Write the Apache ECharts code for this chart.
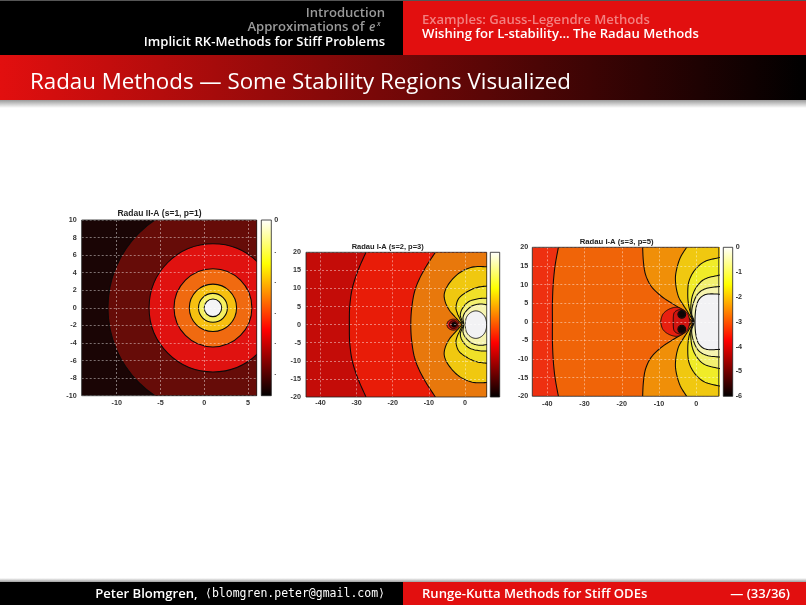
<!DOCTYPE html>
<html><head><meta charset="utf-8">
<style>html,body{margin:0;padding:0;background:#fff}#c{width:806px;height:605px}</style>
<script src="https://cdn.jsdelivr.net/npm/echarts@6/dist/echarts.min.js"></script>
</head><body><div id="c"></div>
<script>
// ---------- text ----------
const navLeft = ['Introduction', 'Approximations of ', 'Implicit RK-Methods for Stiff Problems'];
const navRight = ['Examples: Gauss-Legendre Methods', 'Wishing for L-stability... The Radau Methods'];
const slideTitle = 'Radau Methods \u2014 Some Stability Regions Visualized';
const footerLeft = 'Peter Blomgren, ';
const footerMail = '\u27e8blomgren.peter@gmail.com\u27e9';
const footerMid = 'Runge-Kutta Methods for Stiff ODEs';
const footerPage = '\u2014 (33/36)';
const panelTitles = ['Radau II-A (s=1, p=1)', 'Radau I-A (s=2, p=3)', 'Radau I-A (s=3, p=5)'];

// ---------- ticks ----------
const xTicks1 = [-10, -5, 0, 5];
const yTicks1 = [-10, -8, -6, -4, -2, 0, 2, 4, 6, 8, 10];
const xTicks23 = [-40, -30, -20, -10, 0];
const yTicks23 = [-20, -15, -10, -5, 0, 5, 10, 15, 20];
const barTicks1 = [0, -0.2, -0.4, -0.6, -0.8, -1];
const barLabels1 = ['0', '.', '.', '.', '.', '.'];
const barTicks3 = [0, -1, -2, -3, -4, -5, -6];
const barLabels3 = ['0', '-1', '-2', '-3', '-4', '-5', '-6'];

// ---------- panel 1: level circles, [centre x, centre y, radius], outermost first ----------
const circles1 = [[1, 0, 12.0], [1, 0, 7.3], [1, 0, 4.45], [1, 0, 2.7], [1, 0, 1.65], [1, 0, 1.0]];
const bandColors1 = ['#1a0505', '#660c08', '#e01210', '#f06a10', '#f6c010', '#f6f060', '#f4f4f6'];

// ---------- panel 2: upper halves of the level curves (lower half is the mirror image) ----------
const p2c1 = [[-27.4, 20], [-29.6, 15], [-31.2, 10], [-31.9, 5], [-32, 0]];
const p2c2 = [[-8.2, 20], [-11.4, 15], [-13.7, 10], [-14.7, 5], [-15, 0]];
const p2c3 = [[6.5, 16], [2, 15.9], [-1.7, 14.2], [-4.4, 11.4], [-5.7, 8.7], [-5.5, 6.4], [-4.4, 4.1], [-3, 2.4], [-1.8, 1.1], [-1, 0]];
const p2c4 = [[6.5, 10.7], [3.4, 10.3], [0.6, 9.1], [-1.7, 7.3], [-2.5, 4.9], [-2.1, 3.1], [-1.5, 1.8], [-0.8, 0]];
const p2c5 = [[6.5, 7.3], [3.9, 7.2], [1.1, 6.4], [-0.7, 4.5], [-1.3, 2.7], [-0.9, 1.3], [-0.5, 0]];
const p2c6 = [[6.5, 5.4], [4.3, 5.7], [2, 5.2], [0.2, 3.6], [-0.55, 2], [-0.37, 0]];
const p2open = [p2c1, p2c2, p2c3, p2c4, p2c5, p2c6];
const p2bandColors = ['#c40c08', '#e81c08', '#e8780c', '#f0c810', '#f0e028', '#f2f070', '#f6f4b0'];
const p2white = [[0, 0], [0.4, 2], [1.5, 3.3], [3, 3.8], [4.5, 3.3], [5.6, 2], [6, 0]];
const p2blobOuter = [[-5.1, 0], [-4.6, 1], [-3.5, 1.5], [-2.4, 1.3], [-1.6, 0]];
const p2blobInner = [[-4.4, 0], [-4, 0.8], [-3.2, 1.1], [-2.4, 0.8], [-2, 0]];
const p2dot = [[-3.8, 0], [-3.5, 0.5], [-3, 0.65], [-2.6, 0.5], [-2.3, 0]];
const p2closed = [p2white, p2blobOuter, p2blobInner, p2dot];
const p2closedColors = ['#f2f2f4', '#e01c10', '#8c0c08', '#100404'];

// ---------- panel 3 ----------
const p3c1 = [[-37, 20], [-37.9, 15], [-38.4, 10], [-38.6, 5], [-38.6, 0]];
const p3c2 = [[-14.4, 20], [-14.2, 16.2], [-13.6, 12.6], [-12, 9.4], [-9.3, 6.8], [-6.6, 5], [-3.5, 3], [-2, 1], [-1.2, 0]];
const p3c3 = [[-2.6, 20], [-4.4, 17], [-5.5, 13], [-5.5, 9.9], [-4.8, 6.8], [-3.5, 4.5], [-2.1, 2.3], [-1, 0]];
const p3c4 = [[6.5, 17.3], [2.3, 16.2], [-0.4, 13.9], [-2, 10.8], [-2.3, 7.2], [-2, 4.1], [-1.25, 1.4], [-0.8, 0]];
const p3c5 = [[6.5, 12.6], [2.3, 11.5], [0.1, 9.4], [-1.1, 6.8], [-1.5, 3.6], [-1.2, 1.5], [-0.7, 0]];
const p3c6 = [[6.5, 9.5], [2.8, 9], [0.5, 7.6], [-0.8, 5], [-1.25, 2.3], [-0.6, 0]];
const p3c7 = [[6.5, 7.4], [2.8, 7.4], [0.8, 6.1], [-0.1, 3.6], [-0.36, 0]];
const p3open = [p3c1, p3c2, p3c3, p3c4, p3c5, p3c6, p3c7];
const p3bandColors = ['#ee3010', '#f06408', '#f08f08', '#f0c810', '#f0ec28', '#f2f070', '#f6f4b0', '#f2f2f4'];
const p3blobOuter = [[-9.6, 0], [-9, 2], [-7.5, 3.3], [-5.5, 3.9], [-3.8, 3.4], [-2.7, 2.2], [-1.8, 0]];
const p3blobInner = [[-6.2, 0], [-6, 2.3], [-4.8, 3.2], [-3.5, 3.2], [-2.4, 2.3], [-1.9, 1], [-1.7, 0]];
const p3closed = [p3blobOuter, p3blobInner];
const p3closedColors = ['#e82010', '#d01410'];
// spots around the zeros: [centre x, centre y, radius]
const p3spots = [[-3.9, 2, 1.05], [-3.9, -2, 1.05], [-3.9, 2, 0.8], [-3.9, -2, 0.8]];
const p3spotColors = ['#701008', '#701008', '#100404', '#100404'];

const barRange1 = [-1.15, 0];
const barRange2 = [-6, 0];
const barRange3 = [-6, 0];

// ---------- layout ----------
const FONT = '"Liberation Sans",Arial,sans-serif';
const SANS = '"Open Sans",Lato,sans-serif';
const grids = [
  {left: 81.7, top: 220, width: 175, height: 175.7},
  {left: 306, top: 252.3, width: 180.7, height: 144.7},
  {left: 532.3, top: 247.3, width: 186.4, height: 149},
  {left: 261.3, top: 220, width: 10, height: 175.7},
  {left: 490.3, top: 252.3, width: 9.4, height: 144.7},
  {left: 723.3, top: 247.3, width: 9.4, height: 149}
];
const LINE = '#0a0a0a';
const LW = 1.05;
const gridLine = {show: true, lineStyle: {color: 'rgba(255,255,255,0.62)', width: 0.7, type: [2, 2]}};
const lab = (margin) => ({fontFamily: FONT, fontSize: 7.2, fontWeight: 'bold', color: '#333', margin});
function xAxis(i, min, max, ticks, margin) {
  return {type: 'value', gridIndex: i, min, max, z: 10, axisLine: {show: false},
    axisTick: {show: false, customValues: ticks}, splitLine: gridLine,
    axisLabel: Object.assign(lab(margin), {customValues: ticks})};
}
function yAxis(i, min, max, ticks, margin) {
  return {type: 'value', gridIndex: i, min, max, z: 10, axisLine: {show: false},
    axisTick: {show: false, customValues: ticks}, splitLine: gridLine,
    axisLabel: Object.assign(lab(margin), {customValues: ticks})};
}
function barX(i) {
  return {type: 'value', gridIndex: i, min: 0, max: 1, show: false};
}
function barY(i, range, ticks, labels) {
  return {type: 'value', gridIndex: i, min: range[0], max: range[1], position: 'right',
    axisLine: {show: false}, axisTick: {show: false, customValues: ticks || []}, splitLine: {show: false},
    axisLabel: labels ? {show: true, customValues: ticks, fontFamily: FONT, fontSize: 7.2, fontWeight: 'bold', color: '#333', margin: 3,
      formatter: (v) => labels[ticks.findIndex((t) => Math.abs(t - v) < 1e-6)]} : {show: false}};
}
const HOT = [{offset: 0, color: '#ffffff'}, {offset: 0.25, color: '#ffff00'}, {offset: 0.625, color: '#ff0000'}, {offset: 1, color: '#000000'}];

function spline(pts) {
  const out = [];
  for (let i = 0; i < pts.length - 1; i++) {
    const p0 = pts[Math.max(i - 1, 0)], p1 = pts[i], p2 = pts[i + 1], p3 = pts[Math.min(i + 2, pts.length - 1)];
    for (let k = 0; k < 10; k++) {
      const t = k / 10, t2 = t * t, t3 = t2 * t;
      out.push([0, 1].map((d) => 0.5 * (2 * p1[d] + (p2[d] - p0[d]) * t + (2 * p0[d] - 5 * p1[d] + 4 * p2[d] - p3[d]) * t2 + (3 * p1[d] - p0[d] - 3 * p2[d] + p3[d]) * t3)));
    }
  }
  out.push(pts[pts.length - 1]);
  return out;
}
function fullCurve(upper) {
  const low = upper.slice().reverse().filter((p) => p[1] !== 0).map((p) => [p[0], -p[1]]);
  return upper.concat(low);
}
function bgSeries(idx, color, xr, yr) {
  return {type: 'custom', coordinateSystem: 'cartesian2d', xAxisIndex: idx, yAxisIndex: idx, silent: true, z: 2, clip: true,
    data: [[0]], renderItem(p, api) {
      const a = api.coord([xr[0], yr[1]]), b = api.coord([xr[1], yr[0]]);
      return {type: 'rect', shape: {x: a[0], y: a[1], width: b[0] - a[0], height: b[1] - a[1]}, style: {fill: color}};
    }};
}
function openSeries(idx, curves, colors) {
  return {type: 'custom', coordinateSystem: 'cartesian2d', xAxisIndex: idx, yAxisIndex: idx, silent: true, z: 3, clip: true,
    data: curves.map((c, i) => [i]), renderItem(p, api) {
      const c = curves[p.dataIndex];
      const line = spline(fullCurve(c).map((q) => api.coord(q)));
      const y0 = c[0][1];
      const poly = line.concat([api.coord([10, -y0]), api.coord([10, y0])]);
      return {type: 'group', children: [
        {type: 'polygon', shape: {points: poly}, style: {fill: colors[p.dataIndex + 1]}},
        {type: 'polyline', shape: {points: line}, style: {stroke: LINE, lineWidth: LW, fill: null}}
      ]};
    }};
}
function closedSeries(idx, curves, colors) {
  return {type: 'custom', coordinateSystem: 'cartesian2d', xAxisIndex: idx, yAxisIndex: idx, silent: true, z: 4, clip: true,
    data: curves.map((c, i) => [i]), renderItem(p, api) {
      const pts = fullCurve(curves[p.dataIndex]).map((q) => api.coord(q));
      const line = spline(pts.concat([pts[0]]));
      return {type: 'polygon', shape: {points: line}, style: {fill: colors[p.dataIndex], stroke: LINE, lineWidth: 0.9}};
    }};
}
function circleSeries(idx, list, colors, z) {
  return {type: 'custom', coordinateSystem: 'cartesian2d', xAxisIndex: idx, yAxisIndex: idx, silent: true, z, clip: true,
    data: list.map((c, i) => [i]), renderItem(p, api) {
      const c = list[p.dataIndex], o = api.coord([c[0], c[1]]), s = api.size([c[2], c[2]]);
      return {type: 'ellipse', shape: {cx: o[0], cy: o[1], rx: s[0], ry: s[1]}, style: {fill: colors[p.dataIndex], stroke: LINE, lineWidth: LW}};
    }};
}
function frameSeries(idx, xr, yr) {
  return {type: 'custom', coordinateSystem: 'cartesian2d', xAxisIndex: idx, yAxisIndex: idx, silent: true, z: 20,
    data: [[0]], renderItem(p, api) {
      const a = api.coord([xr[0], yr[1]]), b = api.coord([xr[1], yr[0]]);
      return {type: 'rect', shape: {x: a[0], y: a[1], width: b[0] - a[0], height: b[1] - a[1]}, style: {fill: null, stroke: '#222', lineWidth: 0.8}};
    }};
}
function barSeries(idx, range) {
  return {type: 'custom', coordinateSystem: 'cartesian2d', xAxisIndex: idx, yAxisIndex: idx, silent: true, z: 5,
    data: [[0]], renderItem(p, api) {
      const a = api.coord([0, range[1]]), b = api.coord([1, range[0]]);
      return {type: 'rect', shape: {x: a[0], y: a[1], width: b[0] - a[0], height: b[1] - a[1]},
        style: {stroke: '#222', lineWidth: 0.8, fill: new echarts.graphic.LinearGradient(0, 0, 0, 1, HOT)}};
    }};
}
const NAV = '600 13.1px ' + SANS;
function text(x, y, t, o) {
  return {type: 'text', x, y, z: 50, style: Object.assign({text: t, fill: '#fff', verticalAlign: 'middle', font: NAV}, o || {})};
}
function rect(x, y, w, h, fill) {
  return {type: 'rect', z: 40, shape: {x, y, width: w, height: h}, style: {fill}};
}
const lg = (c) => new echarts.graphic.LinearGradient(c[0], c[1], c[2], c[3], c[4]);
const GRAY = '#9a9a9a';
const R = {align: 'right'};
const graphicEls = [
  rect(0, 0, 403, 55, '#000'),
  rect(403, 0, 403, 55, '#e20f0f'),
  rect(0, 0, 806, 1, '#555'),
  rect(0, 55, 806, 45, lg([0, 0, 1, 0, [{offset: 0, color: '#e20f0f'}, {offset: 1, color: '#000'}]])),
  rect(0, 100, 806, 8, lg([0, 0, 0, 1, [{offset: 0, color: '#9a9a9a'}, {offset: 1, color: '#ffffff'}]])),
  rect(0, 578, 806, 4, lg([0, 0, 0, 1, [{offset: 0, color: '#ffffff'}, {offset: 1, color: '#a0a0a0'}]])),
  rect(0, 582, 403, 23, '#000'),
  rect(403, 582, 403, 23, '#e20f0f'),
  text(385, 13, navLeft[0], Object.assign({fill: GRAY}, R)),
  text(368, 27.5, navLeft[1], Object.assign({fill: GRAY}, R)),
  text(369, 28, 'e', {fill: GRAY, font: 'italic 600 12px ' + SANS}),
  text(377, 24, 'x', {fill: GRAY, font: 'italic 600 7px ' + SANS}),
  text(385, 42.5, navLeft[2], R),
  text(422, 20, navRight[0], {fill: '#f28080'}),
  text(422, 34.5, navRight[1]),
  text(30, 83, slideTitle, {font: '22.3px ' + SANS}),
  text(201, 594, footerLeft, R),
  text(385, 594, footerMail, Object.assign({font: '11.5px "DejaVu Sans Mono","Liberation Mono",monospace'}, R)),
  text(422, 594, footerMid),
  text(790, 594, footerPage, R)
];
const tStyle = (fs) => ({fontFamily: FONT, fontSize: fs, fontWeight: 'bold', color: '#222'});
const xr1 = [-14, 6], yr1 = [-10, 10], xr2 = [-44, 6], yr2 = [-20, 20];
const option = {
  animation: false,
  backgroundColor: '#fff',
  title: [
    {text: panelTitles[0], left: 159.5, top: 209, textAlign: 'center', padding: 0, textStyle: tStyle(8.5)},
    {text: panelTitles[1], left: 387.7, top: 243, textAlign: 'center', padding: 0, textStyle: tStyle(7.5)},
    {text: panelTitles[2], left: 616.7, top: 238, textAlign: 'center', padding: 0, textStyle: tStyle(7.7)}
  ],
  grid: grids,
  xAxis: [
    xAxis(0, xr1[0], xr1[1], xTicks1, 4), xAxis(1, xr2[0], xr2[1], xTicks23, 3), xAxis(2, xr2[0], xr2[1], xTicks23, 4),
    barX(3), barX(4), barX(5)
  ],
  yAxis: [
    yAxis(0, yr1[0], yr1[1], yTicks1, 5), yAxis(1, yr2[0], yr2[1], yTicks23, 5), yAxis(2, yr2[0], yr2[1], yTicks23, 4),
    barY(3, barRange1, barTicks1, barLabels1), barY(4, barRange2), barY(5, barRange3, barTicks3, barLabels3)
  ],
  graphic: {elements: graphicEls},
  series: [
    bgSeries(0, bandColors1[0], xr1, yr1),
    circleSeries(0, circles1, bandColors1.slice(1), 3),
    frameSeries(0, xr1, yr1),
    bgSeries(1, p2bandColors[0], xr2, yr2),
    openSeries(1, p2open, p2bandColors),
    closedSeries(1, p2closed, p2closedColors),
    frameSeries(1, xr2, yr2),
    bgSeries(2, p3bandColors[0], xr2, yr2),
    openSeries(2, p3open, p3bandColors),
    closedSeries(2, p3closed, p3closedColors),
    circleSeries(2, p3spots, p3spotColors, 5),
    frameSeries(2, xr2, yr2),
    barSeries(3, barRange1),
    barSeries(4, barRange2),
    barSeries(5, barRange3)
  ]
};
echarts.init(document.getElementById('c'), null, {renderer: 'canvas'}).setOption(option);
</script></body></html>
